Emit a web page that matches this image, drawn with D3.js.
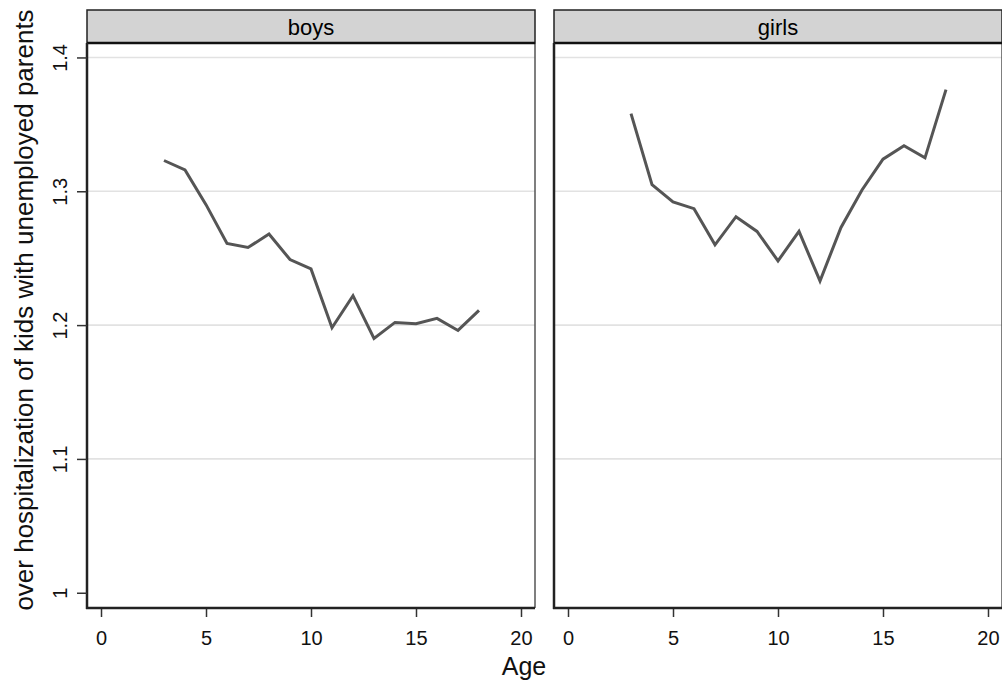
<!DOCTYPE html>
<html>
<head>
<meta charset="utf-8">
<script src="https://cdn.jsdelivr.net/npm/d3@7"></script>
<style>
  body { margin: 0; background: #fff; }
  svg { display: block; font-family: "Liberation Sans", Arial, sans-serif; }
</style>
</head>
<body>
<div class="graph"></div>
<script>
// values
var ages = [3, 4, 5, 6, 7, 8, 9, 10, 11, 12, 13, 14, 15, 16, 17, 18]
var boys = [1.323, 1.316, 1.290, 1.261, 1.258, 1.268, 1.249, 1.242, 1.198, 1.222, 1.190, 1.202, 1.201, 1.205, 1.196, 1.211]
var girls = [1.358, 1.305, 1.292, 1.287, 1.260, 1.281, 1.270, 1.248, 1.270, 1.233, 1.273, 1.301, 1.324, 1.334, 1.325, 1.376]
var panels = ["boys", "girls"]
var xTicks = [0, 5, 10, 15, 20]
var yTicks = [1, 1.1, 1.2, 1.3, 1.4]
var yTickLabels = ["1", "1.1", "1.2", "1.3", "1.4"]
var gridTicks = [1.1, 1.2, 1.3, 1.4]

var w = 1002, h = 686
var plotTop = 43, plotBottom = 608
var panelLeft = [87, 554]
var panelW = 448
var font = "'Liberation Sans', Arial, sans-serif"

var svg = d3.select(".graph").append("svg")
  .attr("width", w)
  .attr("height", h)

var y = d3.scaleLinear().domain([0.9886, 1.4108]).range([plotBottom, plotTop])

var series = [boys, girls]

panels.forEach(function(name, p){
  var x0 = panelLeft[p]
  var x = d3.scaleLinear().domain([-0.667, 20.667]).range([x0, x0 + panelW])
  var g = svg.append("g")

  // header strip
  g.append("rect")
    .attr("x", x0).attr("y", 10)
    .attr("width", panelW).attr("height", plotTop - 10)
    .attr("fill", "#d3d3d3")
    .attr("stroke", "#222").attr("stroke-width", 1.5)
  g.append("text")
    .attr("x", x0 + panelW / 2).attr("y", 35)
    .attr("text-anchor", "middle")
    .style("font-size", "22px")
    .attr("fill", "#000")
    .text(name)

  // gridlines
  g.selectAll("line.grid")
    .data(gridTicks)
    .enter()
    .append("line")
    .attr("class", "grid")
    .attr("x1", x0).attr("x2", x0 + panelW)
    .attr("y1", function(d){ return y(d) })
    .attr("y2", function(d){ return y(d) })
    .attr("stroke", "#e2e2e2").attr("stroke-width", 1.6)

  // frame
  g.append("line").attr("x1", x0 + panelW).attr("x2", x0 + panelW)
    .attr("y1", plotTop).attr("y2", plotBottom)
    .attr("stroke", "#555").attr("stroke-width", 1.5)
  g.append("line").attr("x1", x0).attr("x2", x0 + panelW)
    .attr("y1", plotTop).attr("y2", plotTop)
    .attr("stroke", "#111").attr("stroke-width", 2.5)

  // x axis
  var xAxis = d3.axisBottom(x).tickValues(xTicks).tickSize(9).tickPadding(14)
  var ga = g.append("g").attr("transform", "translate(0," + plotBottom + ")").call(xAxis)
  ga.attr("font-size", null).attr("font-family", null)
  ga.select(".domain").remove()
  ga.selectAll(".tick line").attr("stroke", "#333").attr("stroke-width", 1.5)
  ga.selectAll(".tick text").style("font-size", "20px").attr("fill", "#111")
    .style("font-family", font)
  g.append("line").attr("x1", x0 - 1).attr("x2", x0 + panelW)
    .attr("y1", plotBottom).attr("y2", plotBottom)
    .attr("stroke", "#222").attr("stroke-width", 2.5)

  // y axis line (left border)
  g.append("line").attr("x1", x0).attr("x2", x0)
    .attr("y1", plotTop).attr("y2", plotBottom + 1)
    .attr("stroke", "#222").attr("stroke-width", 2.5)

  if (p == 0) {
    var yAxis = d3.axisLeft(y).tickValues(yTicks).tickSize(10)
      .tickFormat(function(d, i){ return yTickLabels[i] })
    var gy = svg.append("g").attr("transform", "translate(" + x0 + ",0)").call(yAxis)
    gy.attr("font-size", null).attr("font-family", null)
    gy.select(".domain").remove()
    gy.selectAll(".tick line").attr("stroke", "#333").attr("stroke-width", 1.5)
    gy.selectAll(".tick text")
      .style("font-size", "20px").attr("fill", "#111")
      .style("font-family", font)
      .attr("text-anchor", "middle")
      .attr("dy", null)
      .attr("x", null)
      .attr("transform", "translate(-20,0) rotate(-90)")
  }

  var line = d3.line()
    .x(function(d, i){ return x(ages[i]) })
    .y(function(d){ return y(d) })

  g.append("path")
    .datum(series[p])
    .attr("d", line)
    .attr("fill", "none")
    .attr("stroke", "#555")
    .attr("stroke-width", 3)
    .attr("stroke-linejoin", "miter")
})

svg.append("text")
  .attr("x", 524).attr("y", 675)
  .attr("text-anchor", "middle")
  .style("font-size", "25px")
  .attr("fill", "#111")
  .text("Age")

svg.append("text")
  .attr("transform", "translate(33,310) rotate(-90)")
  .attr("text-anchor", "middle")
  .style("font-size", "26px")
  .attr("fill", "#111")
  .text("over hospitalization of kids with unemployed parents")
</script>
</body>
</html>
